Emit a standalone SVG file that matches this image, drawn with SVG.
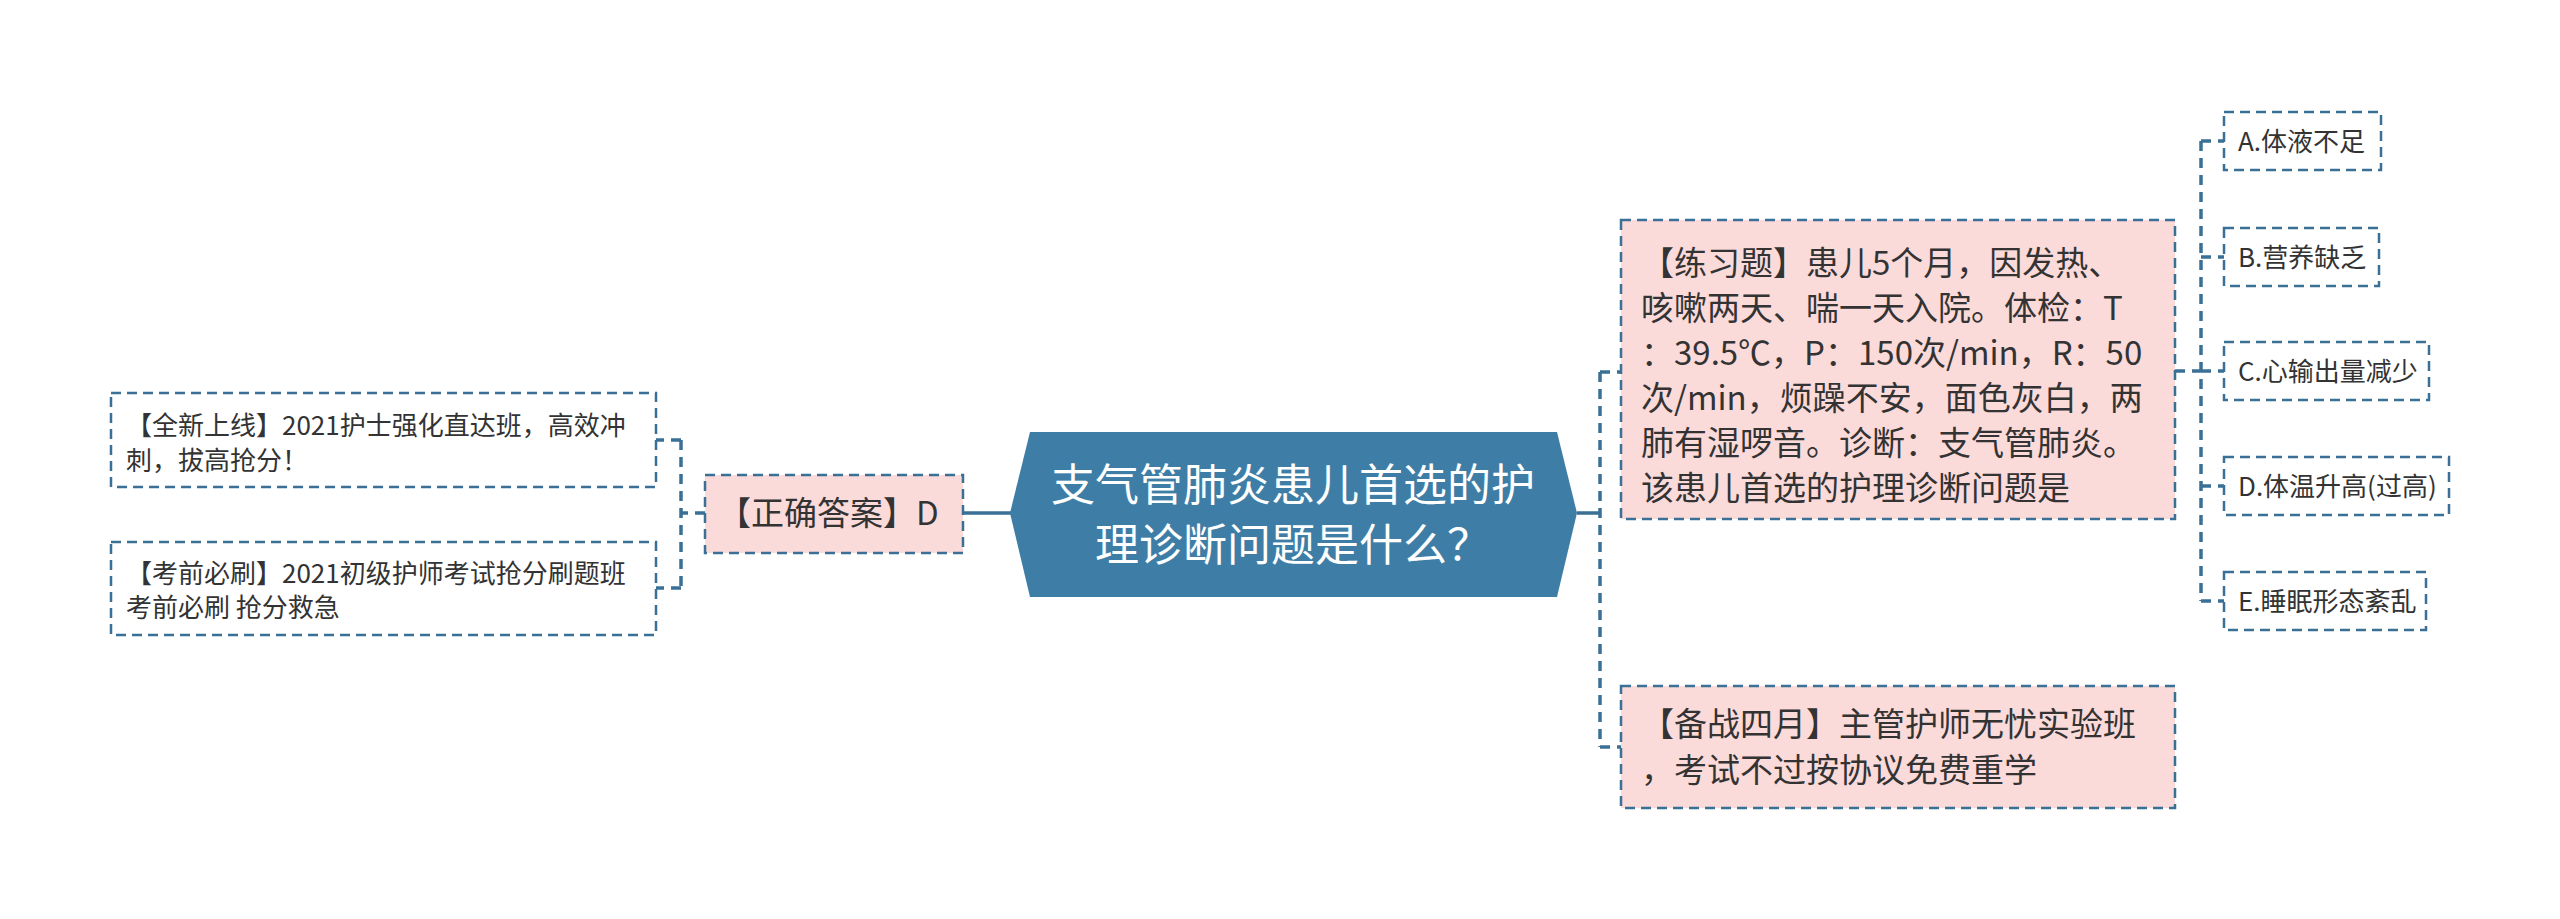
<svg xmlns="http://www.w3.org/2000/svg" width="2560" height="919" viewBox="0 0 2560 919">
<style>
.bg{fill:#ffffff}
.hex{fill:#3e7ea6}
.box{fill:#fbdada;stroke:#3a7096;stroke-width:2.5;stroke-dasharray:10 6}
.opt{fill:#ffffff;stroke:#3a7096;stroke-width:2.5;stroke-dasharray:10 6}
.solid{fill:none;stroke:#3a7096;stroke-width:3.5}
.dash{fill:none;stroke:#3a7096;stroke-width:3.5;stroke-dasharray:10 7}
text{font-family:"Noto Sans CJK SC","Microsoft YaHei",sans-serif;fill:#333333}
.t44{font-size:44px;fill:#ffffff}
.t33{font-size:33px}
.t26{font-size:26px}
</style>
<rect class="bg" x="0" y="0" width="2560" height="919"/>
<g id="connectors">
<path class="solid" d="M963 513 H1012"/>
<path class="dash" d="M705 513 H681 M681 440 V588 M681 440 H656 M681 588 H656"/>
<path class="solid" d="M1577 513 H1600"/>
<path class="dash" d="M1600 372 V747 M1600 372 H1621 M1600 747 H1621"/>
<path class="dash" d="M2175 371 H2201 M2201 141 V601 M2201 141 H2224 M2201 257 H2224 M2201 371 H2224 M2201 486 H2224 M2201 601 H2224"/>
</g>
<g id="root">
<polygon class="hex" points="1030,432 1557,432 1577,513 1557,597 1030,597 1010,513"/>
<text class="t44" x="1293" y="501" text-anchor="middle">支气管肺炎患儿首选的护</text>
<text class="t44" x="1293" y="561" text-anchor="middle">理诊断问题是什么？</text>
</g>
<g id="answer">
<rect class="box" x="705" y="475" width="258" height="78"/>
<text class="t33" x="718" y="525">【正确答案】D</text>
</g>
<g id="ad1">
<rect class="opt" x="111" y="393" width="545" height="94"/>
<text class="t26" x="126" y="435">【全新上线】2021护士强化直达班，高效冲</text>
<text class="t26" x="126" y="470">刺，拔高抢分！</text>
</g>
<g id="ad2">
<rect class="opt" x="111" y="542" width="545" height="93"/>
<text class="t26" x="126" y="583">【考前必刷】2021初级护师考试抢分刷题班</text>
<text class="t26" x="126" y="617">考前必刷 抢分救急</text>
</g>
<g id="question">
<rect class="box" x="1621" y="220" width="554" height="299"/>
<text class="t33" x="1641" y="275">【练习题】患儿5个月，因发热、</text>
<text class="t33" x="1641" y="320">咳嗽两天、喘一天入院。体检：T</text>
<text class="t33" x="1641" y="365">：39.5℃，P：150次/min，R：50</text>
<text class="t33" x="1641" y="410">次/min，烦躁不安，面色灰白，两</text>
<text class="t33" x="1641" y="455">肺有湿啰音。诊断：支气管肺炎。</text>
<text class="t33" x="1641" y="500">该患儿首选的护理诊断问题是</text>
</g>
<g id="ad3">
<rect class="box" x="1621" y="686" width="554" height="122"/>
<text class="t33" x="1641" y="736">【备战四月】主管护师无忧实验班</text>
<text class="t33" x="1641" y="782">，考试不过按协议免费重学</text>
</g>
<g id="optA">
<rect class="opt" x="2224" y="112" width="157" height="58"/>
<text class="t26" x="2238" y="151">A.体液不足</text>
</g>
<g id="optB">
<rect class="opt" x="2224" y="228" width="155" height="58"/>
<text class="t26" x="2238" y="267">B.营养缺乏</text>
</g>
<g id="optC">
<rect class="opt" x="2224" y="342" width="205" height="58"/>
<text class="t26" x="2238" y="381">C.心输出量减少</text>
</g>
<g id="optD">
<rect class="opt" x="2224" y="457" width="225" height="58"/>
<text class="t26" x="2238" y="496">D.体温升高(过高)</text>
</g>
<g id="optE">
<rect class="opt" x="2224" y="572" width="202" height="58"/>
<text class="t26" x="2238" y="611">E.睡眠形态紊乱</text>
</g>
</svg>
